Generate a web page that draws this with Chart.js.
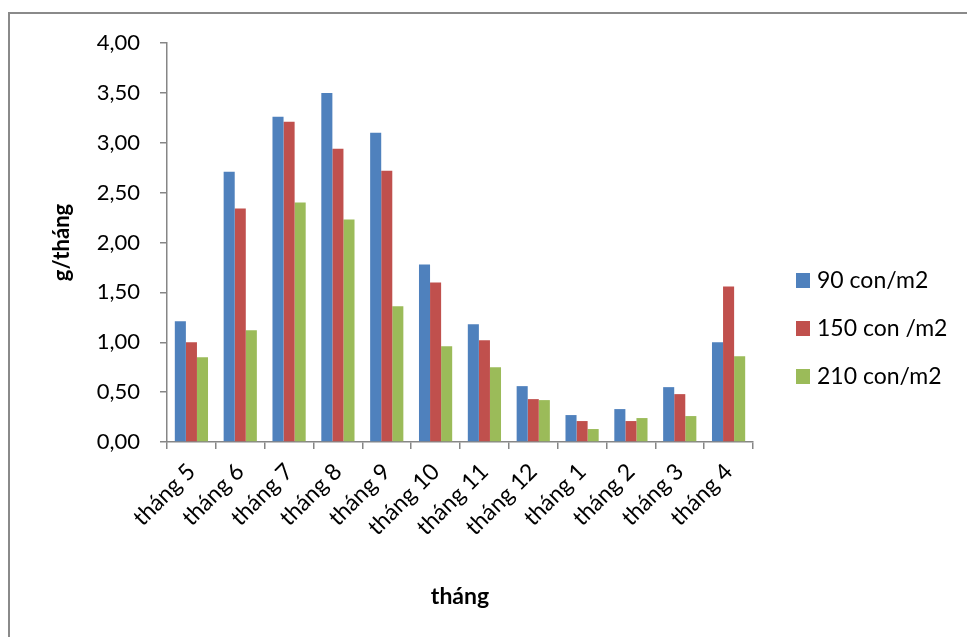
<!DOCTYPE html>
<html>
<head>
<meta charset="utf-8">
<script src="https://cdn.jsdelivr.net/npm/chart.js@4/dist/chart.umd.min.js"></script>
<style>
  html, body { margin: 0; padding: 0; background: #fff; }
  #wrap { position: relative; width: 967px; height: 637px; overflow: hidden; }
  #frame { position: absolute; left: 8px; top: 12px; width: 1000px; height: 700px;
           border-top: 2px solid #8a8a8a; border-left: 2px solid #8a8a8a; box-sizing: border-box; }
  canvas { position: absolute; left: 0; top: 0; }
</style>
</head>
<body>
<div id="wrap">
  <div id="frame"></div>
  <canvas id="c" width="967" height="637"></canvas>
</div>
<script>
// Monthly growth (g/tháng) at three stocking densities
const months = ['tháng 5', 'tháng 6', 'tháng 7', 'tháng 8', 'tháng 9', 'tháng 10',
                'tháng 11', 'tháng 12', 'tháng 1', 'tháng 2', 'tháng 3', 'tháng 4'];
const seriesNames = ['90 con/m2', '150 con /m2', '210 con/m2'];
const density90  = [1.21, 2.71, 3.26, 3.50, 3.10, 1.78, 1.18, 0.56, 0.27, 0.33, 0.55, 1.00];
const density150 = [1.00, 2.34, 3.21, 2.94, 2.72, 1.60, 1.02, 0.43, 0.21, 0.21, 0.48, 1.56];
const density210 = [0.85, 1.12, 2.40, 2.23, 1.36, 0.96, 0.75, 0.42, 0.13, 0.24, 0.26, 0.86];
const yTicks = [0, 0.5, 1, 1.5, 2, 2.5, 3, 3.5, 4];

const colors = ['#4F81BD', '#C0504D', '#9BBB59'];
const FONT = 'Lato, "Open Sans", sans-serif';
const axisGray = '#868686';

// Legend drawn to the right of the plot area
const sideLegend = {
  id: 'sideLegend',
  afterDraw(chart) {
    const { ctx, chartArea } = chart;
    ctx.save();
    ctx.font = '23px ' + FONT;
    ctx.textBaseline = 'middle';
    ctx.textAlign = 'left';
    chart.data.datasets.forEach((ds, i) => {
      const cy = chartArea.top + 237 + i * 48;
      const bx = chartArea.right + 43;
      ctx.fillStyle = ds.backgroundColor;
      ctx.fillRect(bx, cy - 7, 14, 15);
      ctx.fillStyle = '#000';
      ctx.fillText(ds.label, bx + 21, cy + 1);
    });
    ctx.restore();
  }
};

const values = [density90, density150, density210];

new Chart(document.getElementById('c'), {
  type: 'bar',
  data: {
    labels: months,
    datasets: seriesNames.map((name, i) => ({
      label: name,
      data: values[i],
      backgroundColor: colors[i],
      borderWidth: 0,
      barPercentage: 1,
      categoryPercentage: 0.68
    }))
  },
  options: {
    responsive: false,
    animation: false,
    devicePixelRatio: 1,
    layout: { padding: { left: 0, right: 214, top: 43, bottom: 0 } },
    plugins: {
      legend: { display: false },
      tooltip: { enabled: false }
    },
    scales: {
      x: {
        grid: { display: true, drawOnChartArea: false, drawTicks: true, tickLength: 7, color: axisGray, lineWidth: 1.5, offset: true },
        border: { display: true, color: axisGray, width: 1.5 },
        ticks: { color: '#000', font: { family: FONT, size: 23 }, minRotation: 45, maxRotation: 45, padding: 9, autoSkip: false },
        title: { display: true, text: 'tháng', color: '#000', font: { family: FONT, size: 23, weight: 'bold' }, padding: { top: 0, bottom: 27 } },
        afterFit(scale) { scale.height = 195; }
      },
      y: {
        min: 0,
        max: 4,
        afterBuildTicks(scale) { scale.ticks = yTicks.map(v => ({ value: v })); },
        grid: { display: true, drawOnChartArea: false, drawTicks: true, tickLength: 7, color: axisGray, lineWidth: 1.5 },
        border: { display: true, color: axisGray, width: 1.5 },
        ticks: {
          color: '#000',
          font: { family: FONT, size: 22 },
          padding: 20,
          callback: v => Number(v).toFixed(2).replace('.', ',')
        },
        title: { display: true, text: 'g/tháng', color: '#000', font: { family: FONT, size: 22, weight: 'bold' }, padding: { top: 49, bottom: 0 } },
        afterFit(scale) { scale.width = 167; }
      }
    }
  },
  plugins: [sideLegend]
});
</script>
</body>
</html>
